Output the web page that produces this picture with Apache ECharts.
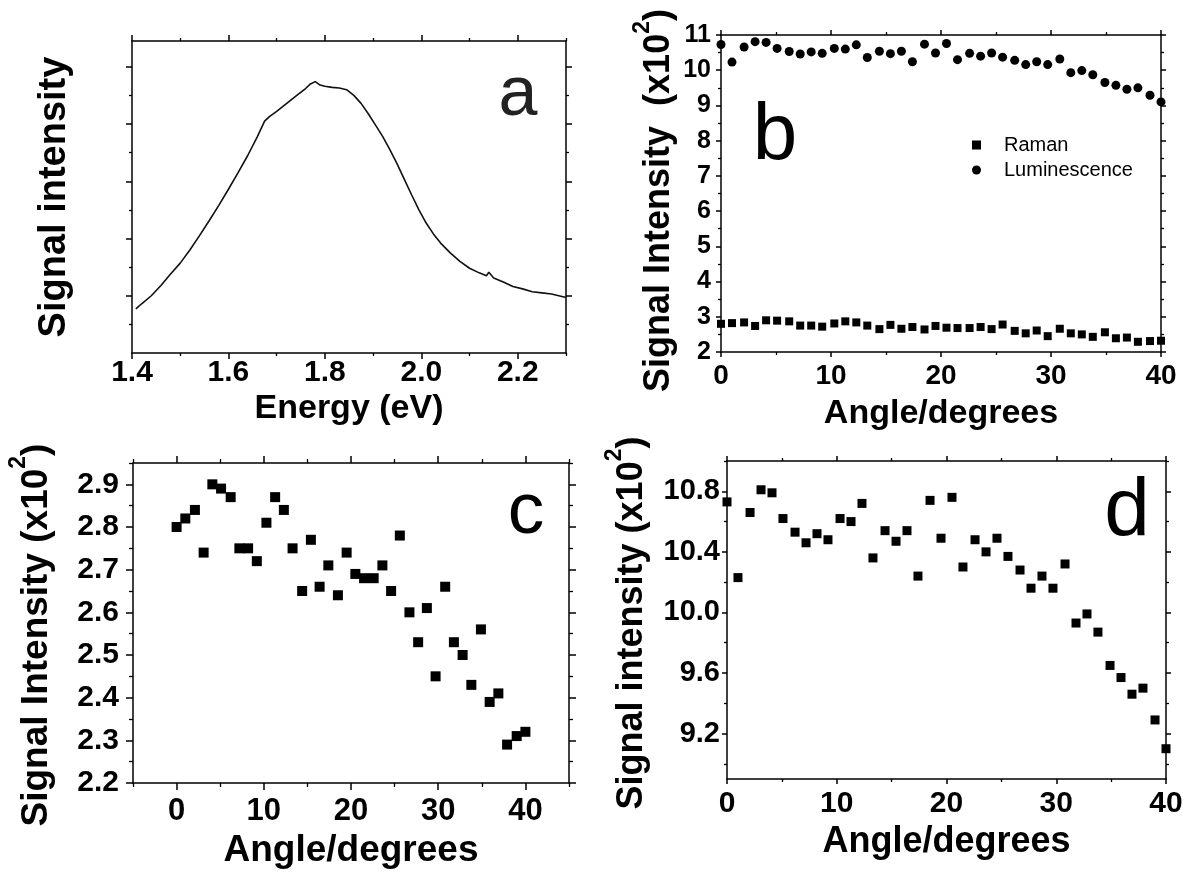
<!DOCTYPE html>
<html><head><meta charset="utf-8">
<script src="https://cdn.jsdelivr.net/npm/echarts@6/dist/echarts.min.js"></script>
<style>html,body{margin:0;padding:0;background:#fff}#c{width:1186px;height:872px}</style>
</head><body><div id="c"></div>
<script>
// ---- Panel a: luminescence spectrum ----
const energyA = [1.408,1.42,1.44,1.46,1.48,1.50,1.52,1.54,1.56,1.58,1.60,1.62,1.64,1.66,1.675,1.685,1.70,1.715,1.73,1.745,1.76,1.77,1.78,1.79,1.80,1.815,1.83,1.845,1.86,1.875,1.89,1.905,1.92,1.935,1.95,1.965,1.98,1.995,2.01,2.025,2.04,2.06,2.08,2.10,2.12,2.135,2.14,2.15,2.17,2.19,2.21,2.23,2.25,2.27,2.285,2.30];
const intensityA = [0.77,0.86,1.00,1.18,1.38,1.57,1.80,2.05,2.31,2.58,2.86,3.15,3.45,3.78,4.05,4.13,4.22,4.32,4.42,4.52,4.62,4.70,4.74,4.68,4.66,4.64,4.63,4.60,4.50,4.36,4.18,3.98,3.78,3.55,3.30,3.03,2.76,2.50,2.27,2.08,1.92,1.75,1.60,1.48,1.40,1.35,1.41,1.31,1.24,1.16,1.12,1.07,1.05,1.03,1.00,0.97];

// ---- Panels b, c, d: angle dependence ----
const angles = [0,1.0,2.1,3.1,4.1,5.1,6.2,7.2,8.2,9.2,10.3,11.3,12.3,13.3,14.4,15.4,16.4,17.4,18.5,19.5,20.5,21.5,22.6,23.6,24.6,25.6,26.7,27.7,28.7,29.7,30.8,31.8,32.8,33.8,34.9,35.9,36.9,37.9,39.0,40.0];
const raman = [2.80,2.82,2.84,2.74,2.90,2.89,2.87,2.75,2.75,2.72,2.81,2.87,2.84,2.75,2.65,2.77,2.66,2.71,2.64,2.74,2.69,2.68,2.68,2.71,2.65,2.78,2.60,2.53,2.61,2.45,2.66,2.53,2.50,2.43,2.56,2.39,2.41,2.29,2.31,2.32];
const luminescence = [10.73,10.23,10.66,10.81,10.79,10.62,10.53,10.46,10.52,10.48,10.62,10.60,10.72,10.36,10.54,10.47,10.54,10.24,10.74,10.49,10.76,10.30,10.48,10.40,10.49,10.37,10.28,10.16,10.24,10.16,10.32,9.93,9.99,9.87,9.65,9.57,9.46,9.50,9.29,9.10];

// ---- tick values ----
const ticksAx = [1.4,1.6,1.8,2.0,2.2];         const minorAx = [1.5,1.7,1.9,2.1,2.3];
const ticksAy = [1,2,3,4,5];                   const minorAy = [0.5,1.5,2.5,3.5,4.5];
const ticksBx = [0,10,20,30,40];               const minorBx = [5,15,25,35];
const ticksBy = [2,3,4,5,6,7,8,9,10,11];       const minorBy = [2.5,3.5,4.5,5.5,6.5,7.5,8.5,9.5,10.5];
const ticksCx = [0,10,20,30,40];               const minorCx = [-5,5,15,25,35,45];
const ticksCy = [2.2,2.3,2.4,2.5,2.6,2.7,2.8,2.9]; const minorCy = [2.25,2.35,2.45,2.55,2.65,2.75,2.85,2.95];
const ticksDx = [0,10,20,30,40];               const minorDx = [5,15,25,35];
const ticksDy = [9.2,9.6,10.0,10.4,10.8];      const minorDy = [9.0,9.4,9.8,10.2,10.6,11.0];

const FONT = '"Liberation Sans", Arial, Helvetica, sans-serif';
const INK = '#000';

function axisSet(dim, grid, o) {
  const sides = dim === 'x' ? ['bottom','top'] : ['left','right'];
  const out = [];
  sides.forEach((pos, k) => {
    out.push({
      type: 'value', gridIndex: grid, min: o.min, max: o.max, position: pos,
      axisLine: {show: true, onZero: false, lineStyle: {color: INK, width: 1.5}},
      axisTick: {show: true, inside: false, length: o.tick, customValues: o.major, lineStyle: {color: INK, width: 1.5}},
      axisLabel: (k === 0 && o.labels) ? {show: true, customValues: o.major, margin: o.margin, color: INK,
        fontFamily: FONT, fontWeight: 'bold', fontSize: o.fs, formatter: o.fmt} : {show: false},
      splitLine: {show: false},
      name: k === 0 ? o.name : '', nameLocation: 'middle', nameGap: o.gap, nameMoveOverlap: false,
      nameTextStyle: o.nameStyle, silent: true
    });
  });
  sides.forEach((pos) => {
    out.push({
      type: 'value', gridIndex: grid, min: o.min, max: o.max, position: pos,
      axisLine: {show: false, onZero: false},
      axisTick: {show: true, inside: false, length: o.minorLen, customValues: o.minor, lineStyle: {color: INK, width: 1.3}},
      axisLabel: {show: false}, splitLine: {show: false}, silent: true
    });
  });
  return out;
}

function supName(main, fs, sup, lh, shift) {
  return {
    name: '{m|' + main + '}{s|2}{m|)}',
    style: {padding: [0, shift, 0, 0], rich: {
      m: {fontSize: fs, fontWeight: 'bold', fontFamily: FONT, color: INK, lineHeight: lh},
      s: {fontSize: sup, fontWeight: 'bold', fontFamily: FONT, color: INK, lineHeight: sup, verticalAlign: 'top'}
    }}
  };
}
const f1 = v => Number(v).toFixed(1);
const f0 = v => String(Math.round(v));
const plain = fs => ({fontSize: fs, fontWeight: 'bold', fontFamily: FONT, color: INK});

const nb = supName('Signal Intensity  (x10', 36, 23, 56, 14);
const nc = supName('Signal Intensity (x10', 37, 23, 60, 24);
const nd = supName('Signal intensity (x10', 36, 23, 58, 6);

const xAxes = [].concat(
  axisSet('x', 0, {min: 1.4, max: 2.3, major: ticksAx, minor: minorAx, tick: 6, minorLen: 3, labels: true, fs: 30, margin: 5, fmt: f1,
    name: 'Energy (eV)', gap: 39, nameStyle: plain(34)}),
  axisSet('x', 1, {min: 0, max: 40, major: ticksBx, minor: minorBx, tick: 5, minorLen: 3, labels: true, fs: 28, margin: 10, fmt: f0,
    name: 'Angle/degrees', gap: 45, nameStyle: plain(34)}),
  axisSet('x', 2, {min: -5, max: 45, major: ticksCx, minor: minorCx, tick: 7, minorLen: 4, labels: true, fs: 31, margin: 13, fmt: f0,
    name: 'Angle/degrees', gap: 49, nameStyle: plain(37)}),
  axisSet('x', 3, {min: 0, max: 40, major: ticksDx, minor: minorDx, tick: 5, minorLen: 3, labels: true, fs: 30, margin: 10, fmt: f0,
    name: 'Angle/degrees', gap: 45, nameStyle: plain(36)})
);
const yAxes = [].concat(
  axisSet('y', 0, {min: 0, max: 5.45, major: ticksAy, minor: minorAy, tick: 6, minorLen: 3, labels: false,
    name: 'Signal intensity', gap: 58, nameStyle: plain(38)}),
  axisSet('y', 1, {min: 2, max: 11, major: ticksBy, minor: minorBy, tick: 5, minorLen: 3, labels: true, fs: 25, margin: 10, fmt: f0,
    name: nb.name, gap: 34, nameStyle: nb.style}),
  axisSet('y', 2, {min: 2.2, max: 2.95, major: ticksCy, minor: minorCy, tick: 7, minorLen: 4, labels: true, fs: 30, margin: 14, fmt: f1,
    name: nc.name, gap: 66, nameStyle: nc.style}),
  axisSet('y', 3, {min: 8.9, max: 11.0, major: ticksDy, minor: minorDy, tick: 5, minorLen: 3, labels: true, fs: 29, margin: 7, fmt: f1,
    name: nd.name, gap: 66, nameStyle: nd.style})
);

const pts = ys => angles.map((a, i) => [a, ys[i]]);
const mark = {color: INK, opacity: 1};

const option = {
  backgroundColor: '#fff',
  animation: false,
  grid: [
    {left: 132, top: 41, width: 434, height: 312},
    {left: 721, top: 35, width: 440, height: 317},
    {left: 133, top: 463, width: 436, height: 320},
    {left: 727, top: 461, width: 439, height: 318}
  ],
  xAxis: xAxes,
  yAxis: yAxes,
  legend: {
    data: [{name: 'Raman', icon: 'rect'}, {name: 'Luminescence', icon: 'circle'}],
    orient: 'vertical', left: 967, top: 130, itemWidth: 9, itemHeight: 9, itemGap: 5,
    textStyle: {fontFamily: FONT, fontSize: 20, color: INK, padding: [0, 0, 0, 18]},
    itemStyle: {opacity: 1},
    selectedMode: false
  },
  series: [
    {type: 'line', name: 'Spectrum', xAxisIndex: 0, yAxisIndex: 0, showSymbol: false, symbol: 'none',
      lineStyle: {color: '#111', width: 1.6}, data: energyA.map((e, i) => [e, intensityA[i]])},
    {type: 'scatter', name: 'Raman', xAxisIndex: 4, yAxisIndex: 4, symbol: 'rect', symbolSize: 8,
      itemStyle: mark, data: pts(raman)},
    {type: 'scatter', name: 'Luminescence', xAxisIndex: 4, yAxisIndex: 4, symbol: 'circle', symbolSize: 9,
      itemStyle: mark, data: pts(luminescence)},
    {type: 'scatter', name: 'Raman (c)', xAxisIndex: 8, yAxisIndex: 8, symbol: 'rect', symbolSize: 10,
      itemStyle: mark, data: pts(raman)},
    {type: 'scatter', name: 'Luminescence (d)', xAxisIndex: 12, yAxisIndex: 12, symbol: 'rect', symbolSize: 9,
      itemStyle: mark, data: pts(luminescence)}
  ],
  graphic: [
    {type: 'text', x: 518, y: 96, style: {text: 'a', font: 'normal 70px ' + FONT, fill: '#222', align: 'center', verticalAlign: 'middle'}},
    {type: 'text', x: 775, y: 137, style: {text: 'b', font: 'normal 80px ' + FONT, fill: INK, align: 'center', verticalAlign: 'middle'}},
    {type: 'text', x: 526, y: 513, style: {text: 'c', font: 'normal 73px ' + FONT, fill: INK, align: 'center', verticalAlign: 'middle'}},
    {type: 'text', x: 1127, y: 512, style: {text: 'd', font: 'normal 82px ' + FONT, fill: INK, align: 'center', verticalAlign: 'middle'}}
  ]
};

const chart = echarts.init(document.getElementById('c'), null, {renderer: 'canvas'});
chart.setOption(option);
</script>
</body></html>
